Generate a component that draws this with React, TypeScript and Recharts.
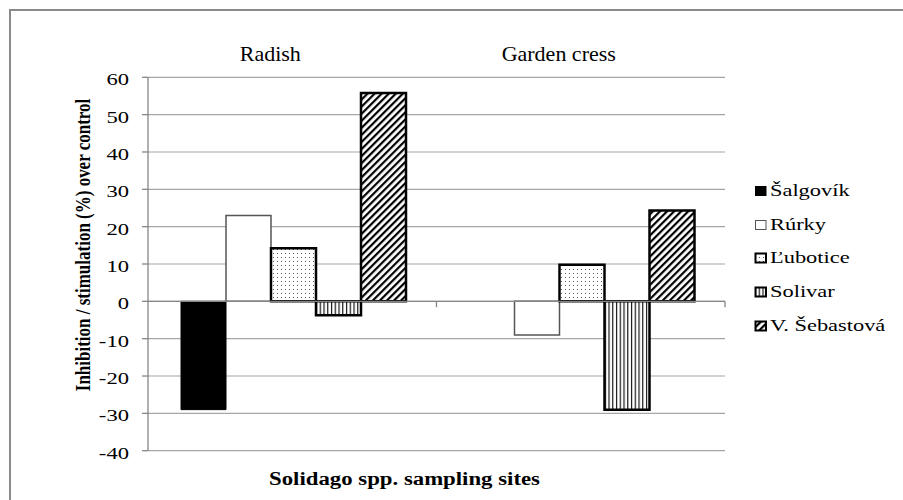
import React from 'react';
import { BarChart, Bar, XAxis, YAxis, CartesianGrid, ReferenceLine, Legend } from 'recharts';

const categories = ['Radish', 'Garden cress'];
const seriesNames = ['Šalgovík', 'Rúrky', 'Ľubotice', 'Solivar', 'V. Šebastová'];
const salgovik: (number | null)[] = [-29.0, null];
const rurky: (number | null)[] = [23.0, -9.0];
const lubotice: (number | null)[] = [14.2, 9.8];
const solivar: (number | null)[] = [-3.7, -29.0];
const sebastova: (number | null)[] = [55.8, 24.3];
const yTicks = [-40, -30, -20, -10, 0, 10, 20, 30, 40, 50, 60];
const yAxisTitle = 'Inhibition / stimulation (%) over control';
const xAxisTitle = 'Solidago spp. sampling sites';

const seriesValues = [salgovik, rurky, lubotice, solivar, sebastova];
const keys = ['s0', 's1', 's2', 's3', 's4'];
const data = categories.map((c, i) => {
  const row: any = { group: c };
  keys.forEach((k, j) => {
    row[k] = seriesValues[j][i];
  });
  return row;
});

const SERIF = '"Liberation Serif", "Times New Roman", serif';
const GRID = '#a6a6a6';
const AXIS = '#868686';

const seriesStyles = [
  { fill: '#000000', stroke: '#000000', strokeWidth: 1 },
  { fill: '#ffffff', stroke: '#555555', strokeWidth: 1.5 },
  { fill: 'url(#patDots)', stroke: '#000000', strokeWidth: 2.5 },
  { fill: 'url(#patVLines)', stroke: '#000000', strokeWidth: 2.5 },
  { fill: 'url(#patDiag)', stroke: '#000000', strokeWidth: 2.5 },
];

const YTick = (props: any) => {
  const { x, y, payload } = props;
  return (
    <g transform={`translate(${x},${y}) scale(1.33,1)`}>
      <text x={0} y={0} dy={8} textAnchor="end" fontFamily={SERIF} fontSize={17} fill="#000">
        {payload.value}
      </text>
    </g>
  );
};

const TopTick = (props: any) => {
  const { x, y, payload } = props;
  return (
    <g transform={`translate(${x - 22},${y - 16}) scale(1.1,1)`}>
      <text x={0} y={0} textAnchor="middle" fontFamily={SERIF} fontSize={20} fill="#000">
        {payload.value}
      </text>
    </g>
  );
};

const YTitle = (props: any) => {
  const vb = props.viewBox || { x: 0, y: 0, width: 0, height: 0 };
  const cx = vb.x + 83;
  const cy = vb.y + vb.height / 2 - 19;
  return (
    <g transform={`translate(${cx},${cy}) rotate(-90) scale(1,1.2)`}>
      <text
        x={0}
        y={0}
        textAnchor="middle"
        dominantBaseline="central"
        fontFamily={SERIF}
        fontWeight="bold"
        fontSize={17}
        fill="#000"
      >
        {yAxisTitle}
      </text>
    </g>
  );
};

const XTitle = (props: any) => {
  const vb = props.viewBox || { x: 0, y: 0, width: 0, height: 0 };
  const cx = vb.x + vb.width / 2 - 32;
  const cy = vb.y + 34;
  return (
    <g transform={`translate(${cx},${cy}) scale(1.2,1)`}>
      <text x={0} y={0} textAnchor="middle" fontFamily={SERIF} fontWeight="bold" fontSize={19} fill="#000">
        {xAxisTitle}
      </text>
    </g>
  );
};

const ZeroAxis = (props: any) => {
  const { x1, y1, x2 } = props;
  const mid = (x1 + x2) / 2;
  return (
    <path
      d={`M${x1},${y1}H${x2}M${mid},${y1}v6M${x2},${y1}v6`}
      stroke={AXIS}
      strokeWidth={1.3}
      fill="none"
    />
  );
};

const LegendContent = () => (
  <div style={{ width: 150 }}>
    {seriesNames.map((name, i) => (
      <div key={name} style={{ height: 33.8, display: 'flex', alignItems: 'center' }}>
        <svg width={14} height={12} style={{ flex: 'none' }}>
          <rect
            x={1.5}
            y={1.5}
            width={10.5}
            height={9}
            fill={seriesStyles[i].fill}
            stroke={seriesStyles[i].stroke}
            strokeWidth={i === 0 ? 1 : i === 1 ? 1 : 2}
          />
        </svg>
        <span
          style={{
            display: 'inline-block',
            marginLeft: 2,
            transform: 'scaleX(1.4)',
            transformOrigin: 'left center',
            fontFamily: SERIF,
            fontSize: 16,
            whiteSpace: 'nowrap',
            color: '#000',
          }}
        >
          {name}
        </span>
      </div>
    ))}
  </div>
);

export default function App() {
  return (
    <div
      style={{
        position: 'absolute',
        left: 0,
        top: 0,
        width: 903,
        height: 500,
        background: '#fff',
        overflow: 'hidden',
      }}
    >
      <div
        style={{
          position: 'absolute',
          left: 9,
          top: 9,
          width: 1000,
          height: 1000,
          borderLeft: '2px solid #8a8a8a',
          borderTop: '2px solid #8a8a8a',
        }}
      />
      <div style={{ position: 'absolute', left: 0, top: 0 }}>
        <BarChart
          width={903}
          height={500}
          data={data}
          margin={{ top: 47.3, right: 178, bottom: 0, left: 0 }}
          barCategoryGap={33}
          barGap={0}
        >
          <defs>
            <pattern id="patDots" width={4} height={4} patternUnits="userSpaceOnUse">
              <rect width={4} height={4} fill="#fff" />
              <rect x={1} y={1} width={1} height={1} fill="#555" />
            </pattern>
            <pattern id="patVLines" width={3.75} height={4} patternUnits="userSpaceOnUse">
              <rect width={3.75} height={4} fill="#fff" />
              <rect x={1} y={0} width={1.1} height={4} fill="#000" />
            </pattern>
            <pattern
              id="patDiag"
              width={5}
              height={5}
              patternUnits="userSpaceOnUse"
              patternTransform="rotate(45)"
            >
              <rect width={5} height={5} fill="#fff" />
              <rect x={0} y={0} width={2.2} height={5} fill="#000" />
            </pattern>
          </defs>
          <CartesianGrid vertical={false} stroke={GRID} strokeWidth={1.2} />
          <XAxis
            dataKey="group"
            orientation="top"
            height={30}
            axisLine={false}
            tickLine={false}
            tickSize={0}
            tickMargin={0}
            tick={<TopTick />}
            interval={0}
          />
          <XAxis
            xAxisId="b"
            dataKey="group"
            orientation="bottom"
            height={49.3}
            axisLine={false}
            tickLine={false}
            tick={false}
            label={{ content: (p: any) => <XTitle {...p} /> }}
          />
          <YAxis
            width={148}
            domain={[-40, 60]}
            ticks={yTicks}
            interval={0}
            allowDataOverflow
            axisLine={{ stroke: AXIS, strokeWidth: 1.3 }}
            tickLine={{ stroke: AXIS, strokeWidth: 1.3 }}
            tickSize={6}
            tickMargin={13}
            tick={<YTick />}
            label={{ content: (p: any) => <YTitle {...p} /> }}
          />
          <ReferenceLine y={0} shape={(p: any) => <ZeroAxis {...p} />} />
          <Legend
            layout="vertical"
            align="right"
            verticalAlign="top"
            wrapperStyle={{ left: 754, top: 174, width: 0, height: 0, overflow: 'visible' }}
            content={() => <LegendContent />}
          />
          {keys.map((k, i) => (
            <Bar
              key={k}
              dataKey={k}
              name={seriesNames[i]}
              fill={seriesStyles[i].fill}
              stroke={seriesStyles[i].stroke}
              strokeWidth={seriesStyles[i].strokeWidth}
              isAnimationActive={false}
            />
          ))}
        </BarChart>
      </div>
    </div>
  );
}
